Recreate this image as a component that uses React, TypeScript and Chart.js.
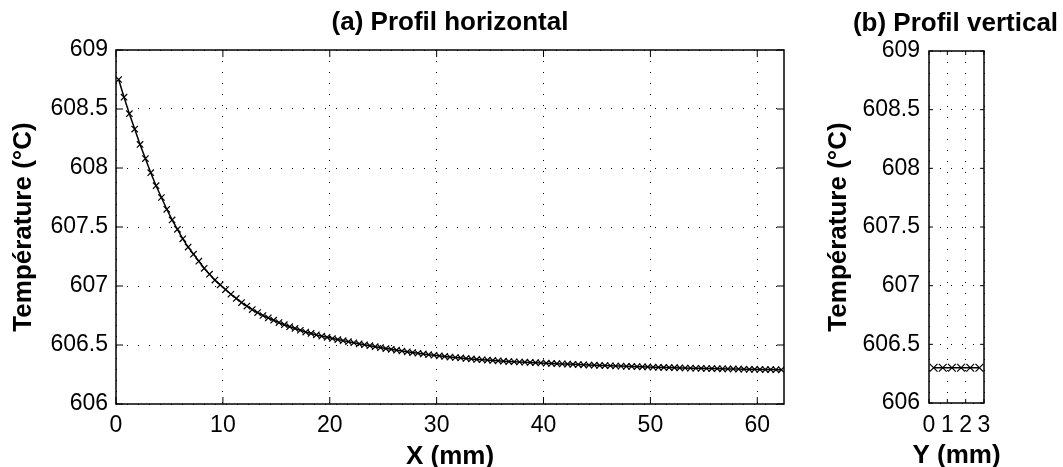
import React, { useEffect, useRef } from 'react';
import { Chart, registerables } from 'chart.js';

Chart.register(...registerables);

const FONT = "'Liberation Sans', Arial, Helvetica, sans-serif";

const TITLE_A = '(a) Profil horizontal';
const TITLE_B = '(b) Profil vertical';
const X_LABEL_A = 'X (mm)';
const X_LABEL_B = 'Y (mm)';
const Y_LABEL = 'Température (°C)';

// (a) horizontal profile: positions (mm) and temperatures (°C)
const X_MM = [
  0.25, 0.75, 1.25, 1.75, 2.25, 2.75, 3.25, 3.75, 4.25, 4.75,
  5.25, 5.75, 6.25, 6.75, 7.25, 7.75, 8.25, 8.75, 9.25, 9.75,
  10.25, 10.75, 11.25, 11.75, 12.25, 12.75, 13.25, 13.75, 14.25, 14.75,
  15.25, 15.75, 16.25, 16.75, 17.25, 17.75, 18.25, 18.75, 19.25, 19.75,
  20.25, 20.75, 21.25, 21.75, 22.25, 22.75, 23.25, 23.75, 24.25, 24.75,
  25.25, 25.75, 26.25, 26.75, 27.25, 27.75, 28.25, 28.75, 29.25, 29.75,
  30.25, 30.75, 31.25, 31.75, 32.25, 32.75, 33.25, 33.75, 34.25, 34.75,
  35.25, 35.75, 36.25, 36.75, 37.25, 37.75, 38.25, 38.75, 39.25, 39.75,
  40.25, 40.75, 41.25, 41.75, 42.25, 42.75, 43.25, 43.75, 44.25, 44.75,
  45.25, 45.75, 46.25, 46.75, 47.25, 47.75, 48.25, 48.75, 49.25, 49.75,
  50.25, 50.75, 51.25, 51.75, 52.25, 52.75, 53.25, 53.75, 54.25, 54.75,
  55.25, 55.75, 56.25, 56.75, 57.25, 57.75, 58.25, 58.75, 59.25, 59.75,
  60.25, 60.75, 61.25, 61.75, 62.25,
];

const T_HORIZONTAL = [
  608.75, 608.60, 608.46, 608.33, 608.20, 608.08, 607.96, 607.85, 607.75, 607.65,
  607.56, 607.48, 607.40, 607.33, 607.27, 607.21, 607.15, 607.10, 607.05, 607.01,
  606.97, 606.93, 606.895, 606.86, 606.83, 606.80, 606.775, 606.75, 606.73, 606.71,
  606.69, 606.672, 606.655, 606.64, 606.625, 606.61, 606.598, 606.586, 606.575, 606.565,
  606.555, 606.546, 606.537, 606.528, 606.519, 606.51, 606.502, 606.494, 606.486, 606.478,
  606.47, 606.463, 606.456, 606.449, 606.442, 606.436, 606.43, 606.424, 606.418, 606.413,
  606.408, 606.403, 606.398, 606.394, 606.39, 606.386, 606.382, 606.378, 606.375, 606.372,
  606.369, 606.366, 606.363, 606.36, 606.358, 606.356, 606.354, 606.352, 606.35, 606.348,
  606.346, 606.344, 606.342, 606.34, 606.338, 606.336, 606.334, 606.332, 606.33, 606.329,
  606.327, 606.326, 606.324, 606.322, 606.321, 606.319, 606.318, 606.316, 606.315, 606.314,
  606.312, 606.311, 606.31, 606.309, 606.308, 606.306, 606.305, 606.304, 606.303, 606.302,
  606.301, 606.30, 606.299, 606.298, 606.297, 606.297, 606.296, 606.295, 606.294, 606.294,
  606.293, 606.292, 606.292, 606.291, 606.29,
];

// (b) vertical profile
const Y_MM = [0.25, 0.75, 1.25, 1.75, 2.25, 2.75];
const T_VERTICAL = [606.3, 606.3, 606.3, 606.3, 606.3, 606.3];

// tick labels
const X_TICKS_A = [0, 10, 20, 30, 40, 50, 60];
const X_TICKS_B = [0, 1, 2, 3];
const T_TICKS = [606, 606.5, 607, 607.5, 608, 608.5, 609];

const X_MAX_A = 62.5;
const X_MAX_B = 3;
const T_MIN = 606;
const T_MAX = 609;

function framePlugin(tickLen: number) {
  return {
    id: 'frame',
    afterDatasetsDraw(chart: any) {
      const { ctx, chartArea: a, scales } = chart;
      ctx.save();
      ctx.strokeStyle = '#000';
      ctx.lineWidth = 1;
      ctx.beginPath();
      scales.x.ticks.forEach((t: any) => {
        const px = scales.x.getPixelForValue(t.value);
        ctx.moveTo(px, a.bottom);
        ctx.lineTo(px, a.bottom - tickLen);
        ctx.moveTo(px, a.top);
        ctx.lineTo(px, a.top + tickLen);
      });
      scales.y.ticks.forEach((t: any) => {
        const py = scales.y.getPixelForValue(t.value);
        ctx.moveTo(a.left, py);
        ctx.lineTo(a.left + tickLen, py);
        ctx.moveTo(a.right, py);
        ctx.lineTo(a.right - tickLen, py);
      });
      ctx.stroke();
      ctx.lineWidth = 1.5;
      ctx.strokeRect(a.left, a.top, a.right - a.left, a.bottom - a.top);
      ctx.restore();
    },
  };
}

const textPluginB = {
  id: 'textsB',
  afterDraw(chart: any) {
    const { ctx, chartArea: a } = chart;
    ctx.save();
    ctx.fillStyle = '#000';
    ctx.font = `bold 26px ${FONT}`;
    ctx.textAlign = 'center';
    ctx.textBaseline = 'middle';
    const cx = (a.left + a.right) / 2;
    ctx.fillText(TITLE_B, cx - 1, 24);
    ctx.fillText(X_LABEL_B, cx, 456);
    ctx.restore();
  },
};

function lineDataset(xs: number[], ys: number[], radius: number) {
  return {
    data: xs.map((x, i) => ({ x, y: ys[i] })),
    borderColor: '#000',
    borderWidth: 1.5,
    pointStyle: 'crossRot',
    pointRadius: radius,
    pointBorderWidth: 1.2,
    pointBorderColor: '#000',
    pointBackgroundColor: 'rgba(0,0,0,0)',
    tension: 0,
  };
}

function yScale(width: number, padding: number, titlePad: number) {
  return {
    type: 'linear',
    min: T_MIN,
    max: T_MAX,
    afterBuildTicks: (s: any) => {
      s.ticks = T_TICKS.map((v) => ({ value: v }));
    },
    afterFit: (s: any) => {
      s.width = width;
    },
    ticks: {
      color: '#000',
      font: { family: FONT, size: 23 },
      padding,
      callback: (v: any) => String(v),
    },
    grid: { color: '#000', lineWidth: 1, drawTicks: false },
    border: { display: false, dash: [1, 10] },
    title: {
      display: true,
      text: Y_LABEL,
      color: '#000',
      font: { family: FONT, size: 26, weight: 'bold', lineHeight: 0.8 },
      padding: { top: titlePad, bottom: 0 },
    },
  };
}

function xScale(max: number, ticks: number[], height: number, padding: number, title: string | null) {
  return {
    type: 'linear',
    min: 0,
    max,
    afterBuildTicks: (s: any) => {
      s.ticks = ticks.map((v) => ({ value: v }));
    },
    afterFit: (s: any) => {
      s.height = height;
    },
    ticks: {
      color: '#000',
      font: { family: FONT, size: 23 },
      padding,
      maxRotation: 0,
      minRotation: 0,
      autoSkip: false,
      callback: (v: any) => String(v),
    },
    grid: { color: '#000', lineWidth: 1, drawTicks: false },
    border: { display: false, dash: [1, 10] },
    title: {
      display: !!title,
      text: title || '',
      color: '#000',
      font: { family: FONT, size: 26, weight: 'bold', lineHeight: 0.8 },
      padding: { top: 0, bottom: 0 },
    },
  };
}

export default function App() {
  const refA = useRef<HTMLCanvasElement | null>(null);
  const refB = useRef<HTMLCanvasElement | null>(null);

  useEffect(() => {
    const chartA = new Chart(refA.current as HTMLCanvasElement, {
      type: 'line',
      data: { datasets: [lineDataset(X_MM, T_HORIZONTAL, 4.5) as any] },
      options: {
        responsive: false,
        maintainAspectRatio: false,
        animation: false,
        events: [],
        layout: { padding: { left: 0, right: 16, top: 0, bottom: 0 } },
        plugins: {
          legend: { display: false },
          tooltip: { enabled: false },
          title: {
            display: true,
            text: TITLE_A,
            fullSize: false,
            color: '#000',
            font: { family: FONT, size: 26, weight: 'bold', lineHeight: 1.2 },
            padding: { top: 7.5, bottom: 11.3 },
          },
        },
        scales: {
          x: xScale(X_MAX_A, X_TICKS_A, 63, 8, X_LABEL_A) as any,
          y: yScale(116, 8, 13.5) as any,
        },
      },
      plugins: [framePlugin(7)],
    });

    const chartB = new Chart(refB.current as HTMLCanvasElement, {
      type: 'line',
      data: { datasets: [lineDataset(Y_MM, T_VERTICAL, 5.5) as any] },
      options: {
        responsive: false,
        maintainAspectRatio: false,
        animation: false,
        events: [],
        layout: { padding: { left: 0, right: 79, top: 51, bottom: 0 } },
        plugins: {
          legend: { display: false },
          tooltip: { enabled: false },
          title: { display: false },
        },
        scales: {
          x: xScale(X_MAX_B, X_TICKS_B, 64, 9, null) as any,
          y: yScale(129, 9, 28.5) as any,
        },
      },
      plugins: [framePlugin(4), textPluginB],
    });

    return () => {
      chartA.destroy();
      chartB.destroy();
    };
  }, []);

  return (
    <div
      style={{
        position: 'absolute',
        left: 0,
        top: 0,
        width: 1063,
        height: 467,
        background: '#fff',
        overflow: 'hidden',
      }}
    >
      <canvas ref={refA} width={800} height={467} style={{ position: 'absolute', left: 0, top: 0 }} />
      <canvas ref={refB} width={263} height={467} style={{ position: 'absolute', left: 800, top: 0 }} />
    </div>
  );
}
